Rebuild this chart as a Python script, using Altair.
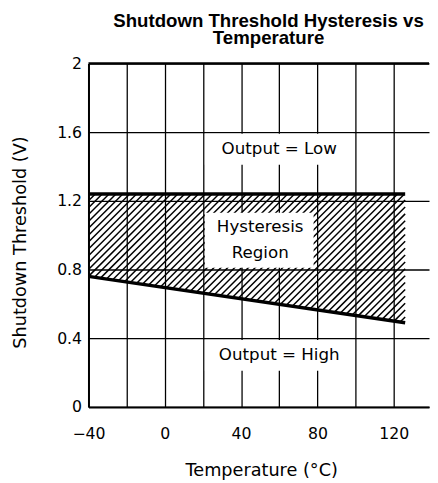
import altair as alt
import pandas as pd
import numpy as np

# ---- data ----
temps = [-40, 126]              # °C, ends of the threshold curves
upper_v = [1.24, 1.24]          # V, upper threshold (output goes low)
lower_v = [0.76, 0.49]          # V, lower threshold (output goes high)

x_ticks = [-40, -20, 0, 20, 40, 60, 80, 100, 120]
y_ticks = [0, 0.2, 0.4, 0.6, 0.8, 1.0, 1.2, 1.4, 1.6, 1.8, 2.0]

# annotations: text, box extents
ann_text = ["Output = Low", "Hysteresis", "Region", "Output = High"]
ann_t = [60, 50, 50, 60]
ann_v = [1.5, 1.047, 0.897, 0.3]
box_t1 = [21, 21, 21]
box_t2 = [99, 78, 99]
box_v1 = [1.41, 0.81, 0.21]
box_v2 = [1.59, 1.13, 0.39]

# ---- layout ----
W, H = 347, 350
X_DOM = [-40, 138.5]
Y_DOM = [0, 2]
px_per_t = W / (X_DOM[1] - X_DOM[0])
px_per_v = H / (Y_DOM[1] - Y_DOM[0])

FONT = "DejaVu Sans"

lines_df = pd.DataFrame(
    {"t": temps * 2, "v": upper_v + lower_v,
     "series": ["upper"] * len(temps) + ["lower"] * len(temps)}
)

# hatch lines (45° in pixels) clipped between the two threshold curves
k = px_per_t / px_per_v          # dv per dt for a 45° pixel line
spacing_px = 7.0
dv = spacing_px / px_per_v
t0, t1 = temps[0], temps[-1]
span = t1 - t0
s = (lower_v[-1] - lower_v[0]) / span
rows = []
for i in range(400):
    a = upper_v[0] - i * dv      # value of the hatch line at t0
    u_hi = min(span, (upper_v[0] - a) / k)
    u_lo = max(0.0, (lower_v[0] - a) / (k - s))
    if u_lo < u_hi:
        rows.append({"t": t0 + u_lo, "v": a + k * u_lo,
                     "t2": t0 + u_hi, "v2": a + k * u_hi})
    elif u_lo >= span:
        break
hatch_df = pd.DataFrame(rows)

xs = alt.Scale(domain=X_DOM, nice=False, zero=False)
ys = alt.Scale(domain=Y_DOM, nice=False, zero=False)

x_axis = alt.Axis(
    values=x_ticks, labelExpr="datum.value % 40 == 0 ? datum.label : ''",
    format="d", grid=True, gridColor="#000", gridWidth=1.3, gridOpacity=1,
    ticks=False, tickSize=0, domainColor="#000", domainWidth=2,
    labelFont=FONT, labelFontSize=16, labelColor="#000", labelPadding=19,
    labelFlush=False,
    title="Temperature (°C)", titleFont=FONT, titleFontSize=18,
    titleFontWeight="normal", titleColor="#000",
    titleBaseline="alphabetic", titleY=70, titleX=176,
)
y_axis = alt.Axis(
    values=y_ticks, labelExpr="round(datum.value * 10) % 4 == 0 ? datum.label : ''",
    format="~g", grid=True, gridColor="#000", gridWidth=1.3, gridOpacity=1,
    ticks=False, tickSize=0, domainColor="#000", domainWidth=2,
    labelFont=FONT, labelFontSize=16, labelColor="#000", labelPadding=7,
    labelFlush=False,
    title="Shutdown Threshold (V)", titleFont=FONT, titleFontSize=18,
    titleFontWeight="normal", titleColor="#000",
    titleBaseline="alphabetic", titleX=-64, titleY=182, titleAngle=270,
)

hatch = alt.Chart(hatch_df).mark_rule(color="#000", strokeWidth=1.5).encode(
    x=alt.X("t:Q", scale=xs, axis=x_axis),
    y=alt.Y("v:Q", scale=ys, axis=y_axis),
    x2="t2:Q", y2="v2:Q",
)

box_df = pd.DataFrame({"t1": box_t1, "t2": box_t2, "v1": box_v1, "v2": box_v2})
boxes = alt.Chart(box_df).mark_rect(fill="#fff").encode(
    x=alt.X("t1:Q", scale=xs), x2="t2:Q",
    y=alt.Y("v1:Q", scale=ys), y2="v2:Q",
)

curves = alt.Chart(lines_df).mark_line(color="#000", strokeWidth=3.5, strokeCap="butt").encode(
    x=alt.X("t:Q", scale=xs),
    y=alt.Y("v:Q", scale=ys),
    detail="series:N",
)

top_df = pd.DataFrame({"v": [Y_DOM[1]]})
top_border = alt.Chart(top_df).mark_rule(color="#000", strokeWidth=2.5).encode(
    y=alt.Y("v:Q", scale=ys),
)

ann_df = pd.DataFrame({"label": ann_text, "t": ann_t, "v": ann_v})
texts = alt.Chart(ann_df).mark_text(font=FONT, fontSize=17, color="#000",
                                    align="center", baseline="middle").encode(
    x=alt.X("t:Q", scale=xs),
    y=alt.Y("v:Q", scale=ys),
    text="label:N",
)

chart = alt.layer(hatch, boxes, curves, top_border, texts).properties(
    width=W, height=H,
    title=alt.TitleParams(
        text=["Shutdown Threshold Hysteresis vs", "Temperature"],
        font="Liberation Sans", fontSize=19, fontWeight="bold", color="#000",
        anchor="middle", lineHeight=17, baseline="alphabetic", offset=1,
        dy=8, dx=10,
    ),
    padding={"left": 82, "top": 52, "right": 1, "bottom": 70},
    autosize=alt.AutoSizeParams(type="none"),
).configure_view(stroke=None)

chart.save("out.html", embed_options={"renderer": "svg", "actions": False})
